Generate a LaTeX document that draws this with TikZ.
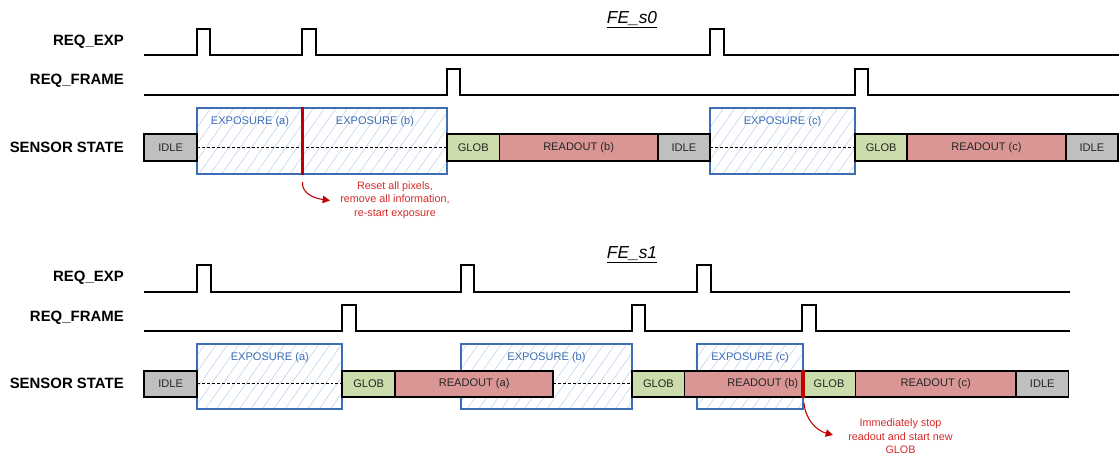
\documentclass[tikz,border=0pt]{standalone}
\usepackage{fontspec}
\setmainfont{Liberation Sans}
\usetikzlibrary{arrows.meta,patterns.meta}

\definecolor{idlegray}{HTML}{BFBFBF}
\definecolor{globgreen}{HTML}{CCDCAA}
\definecolor{readred}{HTML}{D99694}
\definecolor{expblue}{HTML}{3D6DB5}
\definecolor{hatchblue}{HTML}{C6D6EE}
\definecolor{resetred}{HTML}{C00000}
\definecolor{notered}{HTML}{D42A2A}

\tikzset{
  sig/.style={line width=1.5pt},
  segbox/.style={draw=black,line width=1.4pt},
  segtxt/.style={font=\fontsize{8.3}{10}\selectfont,text=black!85},
  expbox/.style={draw=expblue,line width=1.4pt,
    pattern={Lines[angle=55,distance=7pt,line width=0.5pt]},pattern color=hatchblue},
  exptxt/.style={font=\fontsize{8.3}{10}\selectfont,text=expblue},
  midline/.style={line width=0.6pt,dash pattern=on 2.2pt off 1.5pt},
  resetline/.style={draw=resetred,line width=2.6pt},
  lbl/.style={anchor=east,inner sep=0pt,font=\fontsize{11.2}{13}\selectfont\bfseries},
  ttl/.style={anchor=base,font=\fontsize{13}{15}\selectfont\itshape},
  note/.style={align=center,text=notered,font=\fontsize{8.1}{10.2}\selectfont},
  notearrow/.style={draw=resetred,line width=0.8pt,-{Triangle[length=5.5pt,width=5.5pt]}}
}

\begin{document}
\begin{tikzpicture}[x=0.75pt,y=-0.75pt]
\useasboundingbox (0,0) rectangle (1120,458);

% ---- FE_s0 ----
\node[ttl] (fes0) at (632,23) {\underline{FE\_s0}};

\node[lbl] (exp0) at (124,41.7) {REQ\_EXP};
\node[lbl] (frame0) at (124,81) {REQ\_FRAME};
\node[lbl] (state0) at (124,147.5) {SENSOR STATE};

\draw[sig] (144,54.7) -- (196.7,54.7) -- (196.7,29.3) -- (210.2,29.3) -- (210.2,54.7)
  -- (302.3,54.7) -- (302.3,29.3) -- (315.7,29.3) -- (315.7,54.7)
  -- (710,54.7) -- (710,29.3) -- (723.5,29.3) -- (723.5,54.7) -- (1119,54.7);
\draw[sig] (144,95) -- (447,95) -- (447,69) -- (460,69) -- (460,95)
  -- (854.5,95) -- (854.5,69) -- (868,69) -- (868,95) -- (1119,95);

\draw[expbox] (197.3,107.7) rectangle (447,174);
\draw[expbox] (710,107.7) rectangle (855,174);
\node[exptxt] (ea0) at (250,121.7) {EXPOSURE (a)};
\node[exptxt] (eb0) at (375,121.7) {EXPOSURE (b)};
\node[exptxt] (ec0) at (782.5,121.7) {EXPOSURE (c)};
\draw[midline] (197.3,147.5) -- (447,147.5);
\draw[midline] (710,147.5) -- (855,147.5);

\draw[segbox,fill=idlegray] (144,134.3) rectangle (197.3,160.7) node[midway,segtxt] (idle0a) {IDLE};
\draw[segbox,fill=globgreen] (447,134.3) rectangle (499.5,160.7) node[midway,segtxt] (glob0b) {GLOB};
\draw[segbox,fill=readred] (499.5,134.3) rectangle (657.7,160.7) node[midway,segtxt] (read0b) {READOUT (b)};
\draw[segbox,fill=idlegray] (657.7,134.3) rectangle (710,160.7) node[midway,segtxt] (idle0b) {IDLE};
\draw[segbox,fill=globgreen] (855,134.3) rectangle (907.3,160.7) node[midway,segtxt] (glob0c) {GLOB};
\draw[segbox,fill=readred] (907.3,134.3) rectangle (1065.7,160.7) node[midway,segtxt] (read0c) {READOUT (c)};
\draw[segbox,fill=idlegray] (1065.7,134.3) rectangle (1118,160.7) node[midway,segtxt] (idle0c) {IDLE};

\draw[resetline] (302.7,107) -- (302.7,174.7);

\coordinate (rs0) at (302.5,182);
\node[note] (reset0) at (395,200) {Reset all pixels,\\remove all information,\\re-start exposure};
\coordinate (rt0) at (330,200.5);
\draw[notearrow] (rs0) to[out=-95,in=172] (rt0);

% ---- FE_s1 ----
\node[ttl] (fes1) at (632,258.3) {\underline{FE\_s1}};

\node[lbl] (exp1) at (124,278) {REQ\_EXP};
\node[lbl] (frame1) at (124,318) {REQ\_FRAME};
\node[lbl] (state1) at (124,383.7) {SENSOR STATE};

\draw[sig] (144,291.7) -- (197.3,291.7) -- (197.3,265.3) -- (210.7,265.3) -- (210.7,291.7)
  -- (460.7,291.7) -- (460.7,265.3) -- (474,265.3) -- (474,291.7)
  -- (697,291.7) -- (697,265.3) -- (710.5,265.3) -- (710.5,291.7) -- (1069.5,291.7);
\draw[sig] (144,331) -- (342.3,331) -- (342.3,305) -- (355.5,305) -- (355.5,331)
  -- (631.7,331) -- (631.7,305) -- (644.7,305) -- (644.7,331)
  -- (802.3,331) -- (802.3,305) -- (815.7,305) -- (815.7,331) -- (1069.5,331);

\draw[expbox] (197.3,344.3) rectangle (342.3,409.3);
\draw[expbox] (460.6,344.3) rectangle (632.3,409.3);
\draw[expbox] (697,344.3) rectangle (802.7,409.3);
\node[exptxt] (ea1) at (269.8,357.7) {EXPOSURE (a)};
\node[exptxt] (eb1) at (546.5,357.7) {EXPOSURE (b)};
\node[exptxt] (ec1) at (750,357.7) {EXPOSURE (c)};
\draw[midline] (197.3,383.7) -- (342.3,383.7);
\draw[midline] (553.3,383.7) -- (632.3,383.7);

\draw[segbox,fill=idlegray] (144,370.7) rectangle (197.3,396.7) node[midway,segtxt] (idle1a) {IDLE};
\draw[segbox,fill=globgreen] (342.3,370.7) rectangle (395,396.7) node[midway,segtxt] (glob1a) {GLOB};
\draw[segbox,fill=readred] (395,370.7) rectangle (553.3,396.7) node[midway,segtxt] (read1a) {READOUT (a)};
\draw[segbox,fill=globgreen] (632.3,370.7) rectangle (684.5,396.7) node[midway,segtxt] (glob1b) {GLOB};
\draw[segbox,fill=readred] (684.5,370.7) rectangle (802.7,396.7);
\node[segtxt] (read1b) at (762.8,383.7) {READOUT (b)};
\draw[segbox,fill=globgreen] (802.7,370.7) rectangle (855.5,396.7) node[midway,segtxt] (glob1c) {GLOB};
\draw[segbox,fill=readred] (855.5,370.7) rectangle (1016,396.7) node[midway,segtxt] (read1c) {READOUT (c)};
\draw[segbox,fill=idlegray] (1016,370.7) rectangle (1068.5,396.7) node[midway,segtxt] (idle1c) {IDLE};

\draw[resetline] (803,370) -- (803,397.5);

\coordinate (rs1) at (804,403);
\node[note] (stop1) at (900.5,436.5) {Immediately stop\\readout and start new\\GLOB};
\coordinate (rt1) at (833,435);
\draw[notearrow] (rs1) to[out=-85,in=165] (rt1);

\end{tikzpicture}
\end{document}
